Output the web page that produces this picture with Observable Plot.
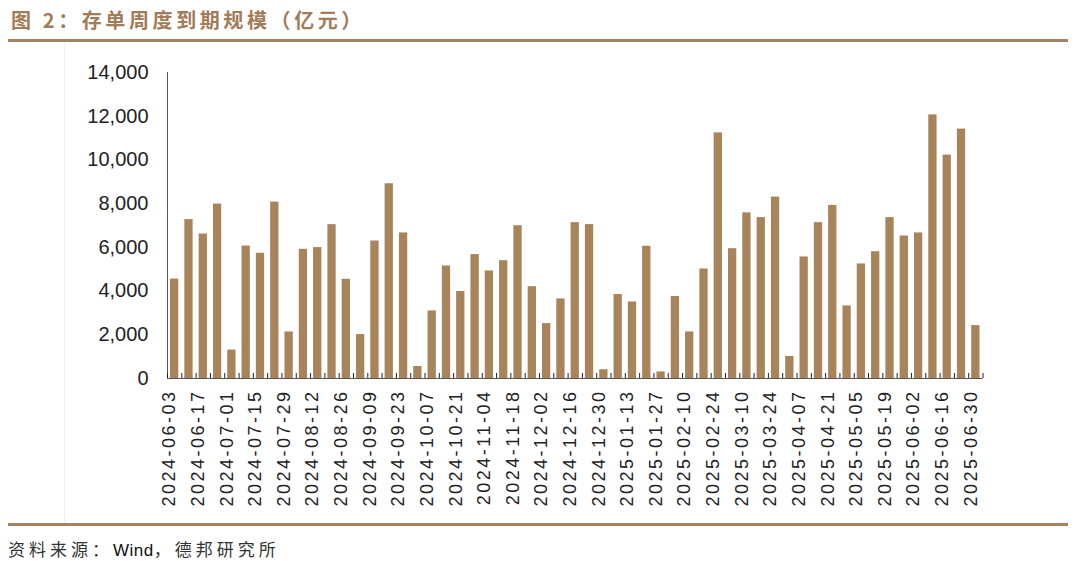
<!DOCTYPE html>
<html>
<head>
<meta charset="utf-8">
<script src="https://cdn.jsdelivr.net/npm/d3@7"></script>
<script src="https://cdn.jsdelivr.net/npm/@observablehq/plot@0.6"></script>
<style>
  html, body { margin: 0; padding: 0; background: #fff; }
  #page { position: relative; width: 1080px; height: 561px; overflow: hidden; background: #fff; }
  #title { position: absolute; left: 11px; top: 5px; font-family: "Noto Sans CJK SC", sans-serif; font-weight: bold; font-size: 20px; letter-spacing: 3.6px; color: #a27b57; white-space: nowrap; }
  .hline { position: absolute; left: 8px; width: 1060px; height: 2.5px; background: #a58262; }
  #vline { position: absolute; left: 64px; top: 42px; width: 1px; height: 481px; background: #f1f1f1; }
  #chart { position: absolute; left: 0; top: 45px; }
  #source { position: absolute; left: 8px; top: 536px; font-family: "Noto Sans CJK SC", sans-serif; font-size: 17px; letter-spacing: 4px; color: #333; white-space: nowrap; }
  #source .en { font-family: "Liberation Sans", Arial, sans-serif; color: #111; letter-spacing: 0.5px; }
</style>
</head>
<body>
<div id="page">
  <div id="vline"></div>
  <div id="title">图 2：存单周度到期规模（亿元）</div>
  <div class="hline" style="top:39px"></div>
  <div id="chart"></div>
  <div class="hline" style="top:523px"></div>
  <div id="source">资料来源：<span class="en">Wind</span>，德邦研究所</div>
</div>
<script>
const dates = [
  "2024-06-03","2024-06-10","2024-06-17","2024-06-24","2024-07-01","2024-07-08","2024-07-15","2024-07-22","2024-07-29",
  "2024-08-05","2024-08-12","2024-08-19","2024-08-26","2024-09-02","2024-09-09","2024-09-16","2024-09-23","2024-09-30",
  "2024-10-07","2024-10-14","2024-10-21","2024-10-28","2024-11-04","2024-11-11","2024-11-18","2024-11-25",
  "2024-12-02","2024-12-09","2024-12-16","2024-12-23","2024-12-30",
  "2025-01-06","2025-01-13","2025-01-20","2025-01-27","2025-02-03","2025-02-10","2025-02-17","2025-02-24",
  "2025-03-03","2025-03-10","2025-03-17","2025-03-24","2025-03-31","2025-04-07","2025-04-14","2025-04-21","2025-04-28",
  "2025-05-05","2025-05-12","2025-05-19","2025-05-26","2025-06-02","2025-06-09","2025-06-16","2025-06-23","2025-06-30"
];
const values = [
  4550, 7270, 6610, 7980, 1300, 6060, 5730, 8070, 2130,
  5910, 5990, 7040, 4540, 2010, 6290, 8910, 6660, 550,
  3090, 5150, 3980, 5670, 4920, 5390, 6990, 4200,
  2510, 3640, 7130, 7040, 400,
  3840, 3500, 6050, 300, 3750, 2130, 5010, 11240,
  5940, 7580, 7360, 8300, 1010, 5560, 7130, 7920,
  3320, 5240, 5800, 7360, 6520, 6660, 12060, 10220, 11410, 2420
];
const yTicks = [0, 2000, 4000, 6000, 8000, 10000, 12000, 14000];
const xLabels = dates.filter((d, i) => i % 2 === 0);

const data = dates.map((d, i) => ({date: d, value: values[i]}));

const W = 1080, H = 470;
const mL = 167, mR = 97.5, mT = 27, mB = 137;
const pIn = 0.42, pOut = 0.21;
const step = (W - mL - mR) / (dates.length - pIn + 2 * pOut);
const frameH = H - mT - mB;
const barColor = "#a8845a";
const axisColor = "#555";

const chart = Plot.plot({
  width: W,
  height: H,
  marginLeft: mL,
  marginRight: mR,
  marginTop: mT,
  marginBottom: mB,
  style: {fontFamily: "'Liberation Sans', Arial, sans-serif", color: "#222", background: "transparent"},
  x: {type: "band", domain: dates, paddingInner: pIn, paddingOuter: pOut, round: false},
  y: {domain: [0, 14000]},
  marks: [
    Plot.barY(data, {x: "date", y: "value", fill: barColor}),
    Plot.ruleY([0], {stroke: axisColor, strokeWidth: 1}),
    Plot.ruleX([dates[0]], {x: d => d, dx: -step / 2, stroke: axisColor, strokeWidth: 1}),
    Plot.ruleX(dates, {x: d => d, dx: -step / 2, insetTop: frameH - 5, stroke: "#222", strokeWidth: 1}),
    Plot.ruleX([dates[dates.length - 1]], {x: d => d, dx: step / 2, insetTop: frameH - 5, stroke: "#222", strokeWidth: 1}),
    Plot.axisY({ticks: yTicks, tickFormat: d3.format(","), tickSize: 0, tickPadding: 19, fontSize: 20, label: null}),
    Plot.axisX({ticks: xLabels, tickSize: 0, tickPadding: 11, tickRotate: -90, fontSize: 18, dx: -5, label: null})
  ]
});

chart.querySelectorAll('[aria-label="x-axis tick label"] text').forEach(t => {
  t.style.letterSpacing = "2.5px";
});

document.getElementById("chart").appendChild(chart);
</script>
</body>
</html>
